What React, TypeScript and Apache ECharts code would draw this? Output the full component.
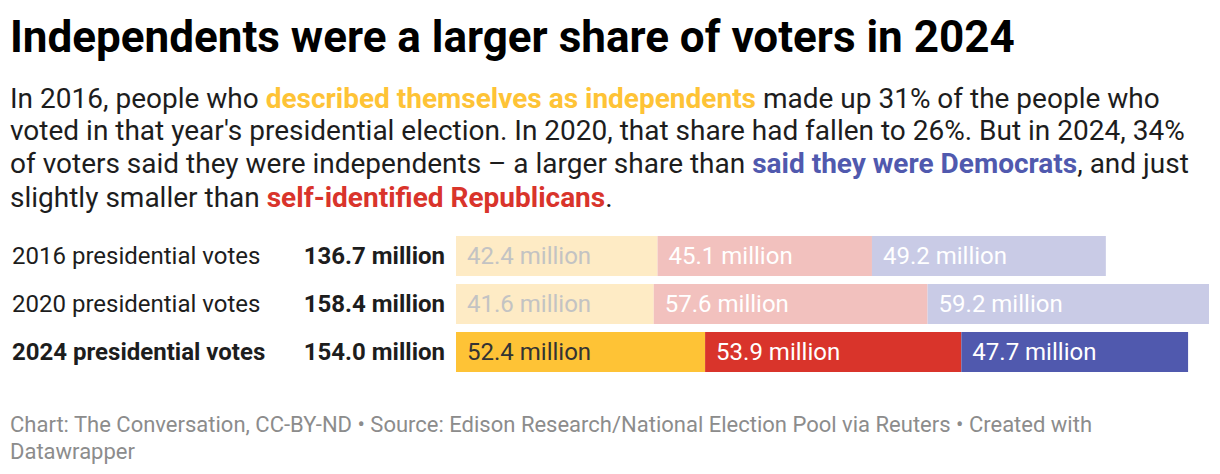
import React, { useEffect, useRef } from "react";
import * as echarts from "echarts";

const years = ["2016", "2020", "2024"];
const rowLabels = ["2016 presidential votes", "2020 presidential votes", "2024 presidential votes"];
const independents = [42.4, 41.6, 52.4];
const republicans = [45.1, 57.6, 53.9];
const democrats = [49.2, 59.2, 47.7];

const title = "Independents were a larger share of voters in 2024";
const footer1 = "Chart: The Conversation, CC-BY-ND • Source: Edison Research/National Election Pool via Reuters • Created with";
const footer2 = "Datawrapper";

const FONT = "Roboto";

export default function App() {
  const ref = useRef<HTMLDivElement>(null);
  useEffect(() => {
    if (!ref.current) return;
    const chart = echarts.init(ref.current, null, { renderer: "svg" });
    const totals = years.map((_, i) => independents[i] + republicans[i] + democrats[i]);
    const maxTotal = Math.max(...totals);

    const colorsFaded = ["#feebc5", "#f2c1be", "#c9cbe6"];
    const colorsFull = ["#fec336", "#d9342b", "#5059ae"];
    const labelFaded = ["#c3c3c3", "#ffffff", "#ffffff"];
    const labelFull = ["#333333", "#ffffff", "#ffffff"];

    const mk = (name: string, arr: number[], k: number) => ({
      name,
      type: "bar",
      stack: "total",
      barWidth: 40,
      data: arr.map((v, i) => ({
        value: v,
        itemStyle: { color: i === 2 ? colorsFull[k] : colorsFaded[k] },
        label: { color: i === 2 ? labelFull[k] : labelFaded[k] },
      })),
      label: {
        show: true,
        position: "insideLeft",
        distance: 11,
        fontFamily: FONT,
        fontSize: 24,
        formatter: (p: any) => p.value.toFixed(1) + " million",
      },
    });

    const SF = 28;
    const subLine = (y: number, text: string) => ({
      type: "text",
      left: 10,
      top: y,
      style: {
        text,
        fontFamily: FONT,
        fontSize: SF,
        fill: "#1d1d1d",
        rich: {
          n: { fontFamily: FONT, fontSize: SF, fill: "#1d1d1d" },
          y: { fontFamily: FONT, fontSize: SF, fontWeight: "bold", fill: "#fec336" },
          b: { fontFamily: FONT, fontSize: SF, fontWeight: "bold", fill: "#5059ae" },
          r: { fontFamily: FONT, fontSize: SF, fontWeight: "bold", fill: "#d9342b" },
        },
      },
    });

    chart.setOption({
      animation: false,
      backgroundColor: "#ffffff",
      grid: { left: 456, top: 232, height: 144, width: 753, containLabel: false },
      xAxis: { type: "value", min: 0, max: maxTotal, show: false },
      yAxis: {
        type: "category",
        inverse: true,
        data: years,
        axisLine: { show: false },
        axisTick: { show: false },
        axisLabel: {
          margin: 11,
          formatter: (_v: string, i: number) => {
            const bold = i === 2;
            return `{${bold ? "nb" : "n"}|${rowLabels[i]}}{t|${totals[i].toFixed(1)} million}`;
          },
          rich: {
            n: { fontFamily: FONT, fontSize: 24, color: "#1d1d1d", width: 280, align: "left" },
            nb: { fontFamily: FONT, fontSize: 24, fontWeight: "bold", color: "#1d1d1d", width: 280, align: "left" },
            t: { fontFamily: FONT, fontSize: 24, fontWeight: "bold", color: "#1d1d1d", width: 153, align: "right" },
          },
        },
      },
      series: [
        mk("Independents", independents, 0),
        mk("Republicans", republicans, 1),
        mk("Democrats", democrats, 2),
      ],
      graphic: [
        {
          type: "text",
          left: 10,
          top: 15,
          style: { text: title, fontFamily: FONT, fontSize: 44, fontWeight: "bold", fill: "#000000" },
        },
        subLine(84, "{n|In 2016, people who }{y|described themselves as independents}{n| made up 31% of the people who}"),
        subLine(116, "{n|voted in that year's presidential election. In 2020, that share had fallen to 26%. But in 2024, 34%}"),
        subLine(149, "{n|of voters said they were independents – a larger share than }{b|said they were Democrats}{n|, and just}"),
        subLine(183, "{n|slightly smaller than }{r|self-identified Republicans}{n|.}"),
        {
          type: "text",
          left: 10,
          top: 413,
          style: { text: footer1, fontFamily: FONT, fontSize: 22, fill: "#8c8c8c" },
        },
        {
          type: "text",
          left: 10,
          top: 440,
          style: { text: footer2, fontFamily: FONT, fontSize: 22, fill: "#8c8c8c" },
        },
      ],
    });
    return () => chart.dispose();
  }, []);
  return <div ref={ref} style={{ position: "fixed", left: 0, top: 0, width: 1220, height: 474 }} />;
}
